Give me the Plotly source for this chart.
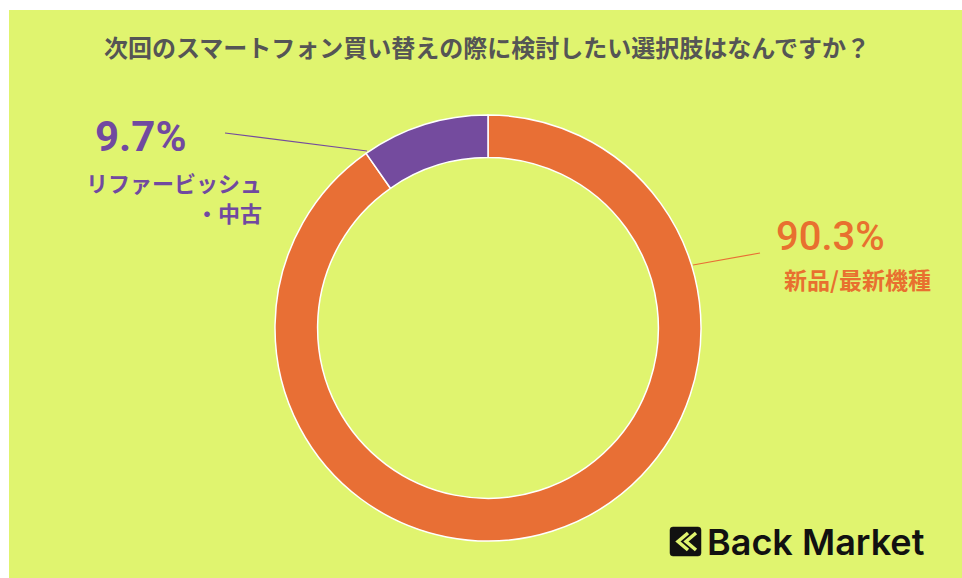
import plotly.graph_objects as go

W, H = 962, 578

categories = ["新品/最新機種", "リファービッシュ・中古"]
values = [90.3, 9.7]
value_labels = ["90.3%", "9.7%"]
colors = ["#E86F35", "#744B9E"]
title_text = "次回のスマートフォン買い替えの際に検討したい選択肢はなんですか？"
BG = "#E0F46F"


def px(x):
    return x / W


def py(y):
    return 1 - y / H


cx, cy, r = 488, 328, 213

fig = go.Figure()
fig.add_trace(go.Pie(
    labels=categories,
    values=values,
    hole=0.80,
    sort=False,
    direction="clockwise",
    rotation=0,
    marker=dict(colors=colors, line=dict(color="white", width=1.5)),
    textinfo="none",
    hoverinfo="skip",
    showlegend=False,
    domain=dict(x=[px(cx - r), px(cx + r)], y=[py(cy + r), py(cy - r)]),
))

shapes = [
    dict(type="rect", xref="paper", yref="paper", x0=px(9), x1=1, y0=0, y1=py(10),
         fillcolor=BG, line=dict(width=0), layer="below"),
    # leader lines
    dict(type="line", xref="paper", yref="paper", x0=px(225), y0=py(133), x1=px(367), y1=py(151),
         line=dict(color=colors[1], width=1.2)),
    dict(type="line", xref="paper", yref="paper", x0=px(693), y0=py(265), x1=px(760), y1=py(253),
         line=dict(color=colors[0], width=1.2)),
]


def path(points, close=False):
    s = "M " + " L ".join(f"{px(x)},{py(y)}" for x, y in points)
    return s + (" Z" if close else "")


# Back Market logo icon (rounded square with chevrons)
x0, x1, y0, y1, rr = 670, 701, 527, 556, 3
icon = (f"M {px(x0+rr)},{py(y0)} L {px(x1-rr)},{py(y0)} Q {px(x1)},{py(y0)} {px(x1)},{py(y0+rr)} "
        f"L {px(x1)},{py(y1-rr)} Q {px(x1)},{py(y1)} {px(x1-rr)},{py(y1)} "
        f"L {px(x0+rr)},{py(y1)} Q {px(x0)},{py(y1)} {px(x0)},{py(y1-rr)} "
        f"L {px(x0)},{py(y0+rr)} Q {px(x0)},{py(y0)} {px(x0+rr)},{py(y0)} Z")
shapes.append(dict(type="path", xref="paper", yref="paper", path=icon,
                   fillcolor="#111111", line=dict(color="#111111", width=0.5)))
shapes.append(dict(type="path", xref="paper", yref="paper",
                   path=path([(688, 533), (678, 541.5), (688, 550)]),
                   line=dict(color=BG, width=3.5)))
shapes.append(dict(type="path", xref="paper", yref="paper",
                   path=path([(696, 533), (686, 541.5), (696, 550)]),
                   line=dict(color=BG, width=3.5)))

annotations = [
    dict(text=f"<b>{title_text}</b>", x=px(487), y=py(46), xref="paper", yref="paper",
         xanchor="center", yanchor="middle", showarrow=False,
         font=dict(family="Noto Sans CJK JP", size=24, color="#555555")),
    dict(text=f"<b>{value_labels[1]}</b>", x=px(140), y=py(137), xref="paper", yref="paper",
         xanchor="center", yanchor="middle", showarrow=False,
         font=dict(family="Roboto", size=42, color="#7149A0")),
    dict(text="<b>リファービッシュ</b>", x=px(264), y=py(182), xref="paper", yref="paper",
         xanchor="right", yanchor="middle", showarrow=False,
         font=dict(family="Noto Sans CJK JP", size=22, color="#7149A0")),
    dict(text="<b>・中古</b>", x=px(264), y=py(212), xref="paper", yref="paper",
         xanchor="right", yanchor="middle", showarrow=False,
         font=dict(family="Noto Sans CJK JP", size=22, color="#7149A0")),
    dict(text=value_labels[0], x=px(830), y=py(236), xref="paper", yref="paper",
         xanchor="center", yanchor="middle", showarrow=False,
         font=dict(family="Roboto", size=40, color="#E8702F", weight=500)),
    dict(text=f"<b>{categories[0]}</b>", x=px(857), y=py(279), xref="paper", yref="paper",
         xanchor="center", yanchor="middle", showarrow=False,
         font=dict(family="Noto Sans CJK JP", size=23, color="#E8702F")),
    dict(text="Back Market", x=px(705), y=py(542), xref="paper", yref="paper",
         xanchor="left", yanchor="middle", showarrow=False,
         font=dict(family="Inter", size=36, color="#111111", weight=600)),
]

fig.update_layout(
    width=W, height=H,
    margin=dict(l=0, r=0, t=0, b=0),
    paper_bgcolor="white",
    shapes=shapes,
    annotations=annotations,
)

fig.write_html("out.html", config={"displayModeBar": False},
               post_script="document.body.style.margin='0';document.body.style.overflow='hidden';")
